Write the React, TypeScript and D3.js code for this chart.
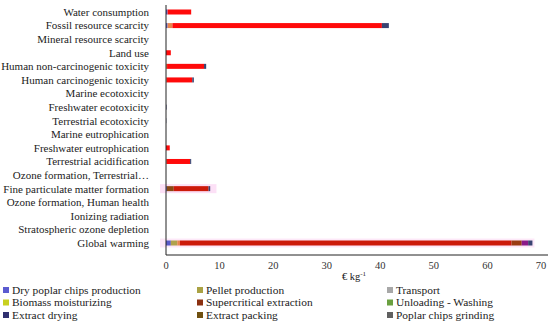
import React from "react";
import * as d3 from "d3";

// impact categories, top to bottom
const categories = [
  "Water consumption",
  "Fossil resource scarcity",
  "Mineral resource scarcity",
  "Land use",
  "Human non-carcinogenic toxicity",
  "Human carcinogenic toxicity",
  "Marine ecotoxicity",
  "Freshwater ecotoxicity",
  "Terrestrial ecotoxicity",
  "Marine eutrophication",
  "Freshwater eutrophication",
  "Terrestrial acidification",
  "Ozone formation, Terrestrial…",
  "Fine particulate matter formation",
  "Ozone formation, Human health",
  "Ionizing radiation",
  "Stratospheric ozone depletion",
  "Global warming",
];

// contributions per category (€ kg-1), same order as categories
const dryChips =      [0.3, 0.3, 0, 0, 0, 0, 0, 0, 0, 0, 0, 0, 0, 0.15, 0, 0, 0, 0.9];
const pelletProd =    [0, 0, 0, 0, 0, 0, 0, 0, 0, 0, 0, 0, 0, 0, 0, 0, 0, 1.2];
const pelletTransp =  [0, 0.9, 0, 0, 0.2, 0.1, 0, 0, 0, 0, 0, 0.1, 0, 0, 0, 0, 0, 0.5];
const packing =       [0, 0, 0, 0, 0, 0, 0, 0, 0, 0, 0, 0, 0, 1.3, 0, 0, 0, 0];
const electricity =   [4.4, 39.1, 0, 0.9, 6.9, 4.8, 0, 0, 0, 0, 0.7, 4.4, 0, 0, 0, 0, 0, 0];
const supercritical = [0, 0, 0, 0, 0, 0, 0, 0, 0, 0, 0, 0, 0, 6.5, 0, 0, 0, 61.9];
const packingGW =     [0, 0, 0, 0, 0, 0, 0, 0, 0, 0, 0, 0, 0, 0, 0, 0, 0, 1.9];
const heat =          [0, 0, 0, 0, 0, 0, 0, 0, 0, 0, 0, 0, 0, 0, 0, 0, 0, 1.2];
const extractDrying = [0, 1.3, 0, 0, 0.4, 0.3, 0, 0.1, 0.05, 0, 0, 0.2, 0, 0.3, 0, 0, 0, 0.8];

const seriesKeys = ["dryChips", "pelletProd", "pelletTransp", "packing", "electricity", "supercritical", "packingGW", "heat", "extractDrying"];
const seriesValues = [dryChips, pelletProd, pelletTransp, packing, electricity, supercritical, packingGW, heat, extractDrying];
const seriesColors = ["#5a5ac8", "#b0a24c", "#e8854c", "#8a4a14", "#ff0a0a", "#cc1a0a", "#9a3c12", "#8a1a88", "#3a4472"];

const xTicks = [0, 10, 20, 30, 40, 50, 60, 70];

const legendLabels = [
  "Dry poplar chips production", "Pellet production", "Transport",
  "Biomass moisturizing", "Supercritical extraction", "Unloading - Washing",
  "Extract drying", "Extract packing", "Poplar chips grinding",
];
const legendColors = ["#5b5bd0", "#aaa244", "#a8a8a8", "#c8d020", "#8b3010", "#6aa040", "#303070", "#705010", "#606060"];

const font = "'Liberation Serif', 'Times New Roman', serif";

export default function App() {
  const width = 550, height = 324;
  const x = d3.scaleLinear().domain([0, 70]).range([166, 541]);
  const y = d3.scaleBand().domain(categories).range([5.2, 249.8]);

  const table = categories.map((c, i) => {
    const row: any = { cat: c };
    seriesKeys.forEach((k, j) => { row[k] = seriesValues[j][i]; });
    return row;
  });
  const stacked = d3.stack().keys(seriesKeys)(table);
  const barH = 5;

  return (
    <svg width={width} height={height} style={{ position: "absolute", left: 0, top: 0, background: "#fff" }}>
      {/* faint halo seen behind two bars */}
      <rect x={160} y={(y("Fine particulate matter formation") as number) + y.bandwidth() / 2 - 4.5}
        width={x(8.3) - 154} height={9} fill="#fbd8f4" opacity={0.8} />
      <rect x={160} y={(y("Global warming") as number) + y.bandwidth() / 2 - 4.5}
        width={x(68.4) - 158} height={9} fill="#fbd8f4" opacity={0.6} />

      {/* bars */}
      {stacked.map((s, j) => (
        <g key={seriesKeys[j]} fill={seriesColors[j]}>
          {s.map((d, i) => d[1] - d[0] > 0 ? (
            <rect key={i} x={x(d[0])} width={x(d[1]) - x(d[0])}
              y={(y(categories[i]) as number) + y.bandwidth() / 2 - barH / 2} height={barH} />
          ) : null)}
        </g>
      ))}

      {/* axes */}
      <line x1={166} x2={166} y1={5} y2={255} stroke="#222" strokeWidth={1} />
      <line x1={166} x2={548} y1={255} y2={255} stroke="#222" strokeWidth={1} />

      {categories.map((c) => (
        <text key={c} x={149} y={(y(c) as number) + y.bandwidth() / 2} dy="0.35em"
          textAnchor="end" fontFamily={font} fontSize={11} fill="#222">{c}</text>
      ))}

      {xTicks.map((t) => (
        <text key={t} x={x(t)} y={265} dy="0.35em" textAnchor="middle"
          fontFamily={font} fontSize={10.5} fill="#333">{t}</text>
      ))}
      <text x={354} y={276} dy="0.35em" textAnchor="middle" fontFamily={font} fontSize={10.5} fill="#222">
        € kg<tspan dy="-4" fontSize={7}>-1</tspan>
      </text>

      {/* legend */}
      {legendLabels.map((l, i) => {
        const col = i % 3, row = Math.floor(i / 3);
        const lx = [3, 197, 387][col];
        const ly = 290 + row * 12.5;
        return (
          <g key={l}>
            <rect x={lx} y={ly - 3} width={6} height={6} fill={legendColors[i]} />
            <text x={lx + 9} y={ly} dy="0.35em" fontFamily={font} fontSize={11.4} fill="#222">{l}</text>
          </g>
        );
      })}
    </svg>
  );
}
